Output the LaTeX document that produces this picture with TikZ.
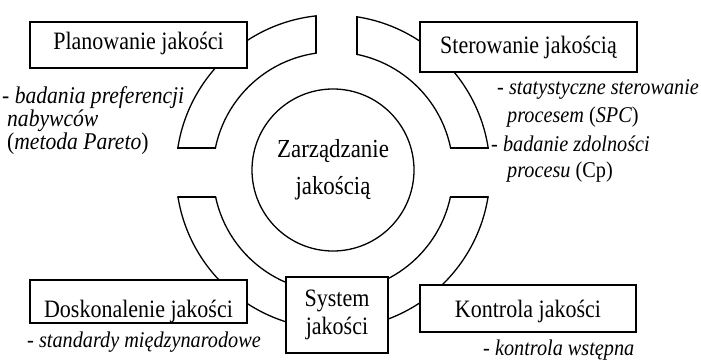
\documentclass[tikz,border=0pt]{standalone}
\usepackage{fontspec}
\setmainfont{Liberation Serif}
\newfontfamily\labelfont[FakeStretch=0.88]{Liberation Serif}
\newfontfamily\notefont[FakeStretch=0.9]{Liberation Serif}
\begin{document}
\begin{tikzpicture}[x=1pt,y=-1pt,
  ring/.style={line width=1.3pt},
  box/.style={draw, line width=1.3pt, fill=white, inner sep=0pt,
    font=\labelfont\fontsize{25}{28}\selectfont},
  note/.style={anchor=base west, inner sep=0pt,
    font=\notefont\itshape\fontsize{22.5}{26}\selectfont},
  bignote/.style={note, font=\notefont\itshape\fontsize{24}{26}\selectfont}]
\useasboundingbox (0,0) rectangle (701,361);
\coordinate (C) at (333,172);

% the ring, split into four sectors
\begin{scope}
  \clip (0,0) rectangle (316,148) (357,0) rectangle (701,148)
        (0,197) rectangle (316,361) (357,197) rectangle (701,361);
  \draw[ring] (C) circle[radius=157] (C) circle[radius=120];
\end{scope}
% ends of the sectors
\begin{scope}[even odd rule]
  \clip (C) circle[radius=157.6] (C) circle[radius=119.4];
  \draw[ring] (316,0) -- (316,120) (357,0) -- (357,120)
              (0,148) -- (701,148) (0,197) -- (701,197);
\end{scope}

% core
\node[circle, draw, line width=1.3pt, minimum size=162pt, inner sep=0pt,
      align=center, font=\labelfont\fontsize{26}{37}\selectfont]
      (core) at (333,170) {Zarządzanie\\jakością};

% boxes
\node[box, minimum width=217pt, minimum height=46pt, text height=10pt, text depth=0pt]
  (plan) at (138.5,45) {Planowanie jakości};
\node[box, minimum width=217pt, minimum height=50pt, text height=12pt, text depth=0pt]
  (ster) at (528.5,47) {Sterowanie jakością};
\node[box, minimum width=217pt, minimum height=43pt, text height=31pt, text depth=0pt]
  (dosk) at (138.5,301.5) {Doskonalenie jakości};
\node[box, minimum width=216pt, minimum height=47pt, text height=17pt, text depth=0pt]
  (kontr) at (528,308.5) {Kontrola jakości};
\node[box, line width=2.7pt, minimum width=102pt, minimum height=76pt, align=center]
  (sys) at (337,315) {System\\jakości};

% notes
\node[bignote] (n1) at (2,103) {- badania preferencji};
\node[bignote] (n2) at (7,126) {nabywców};
\node[bignote] (n3) at (7,149) {{\upshape(}metoda Pareto{\upshape)}};

\node[note] (n4) at (497,94) {- statystyczne sterowanie};
\node[note] (n5) at (507,122) {procesem {\upshape(}SPC{\upshape)}};
\node[note] (n6) at (491,151) {- badanie zdolności};
\node[note] (n7) at (507,177) {procesu {\upshape(Cp)}};

\node[note] (n8) at (27,347) {- standardy międzynarodowe};
\node[note] (n9) at (483,355) {- kontrola wstępna};
\end{tikzpicture}
\end{document}
